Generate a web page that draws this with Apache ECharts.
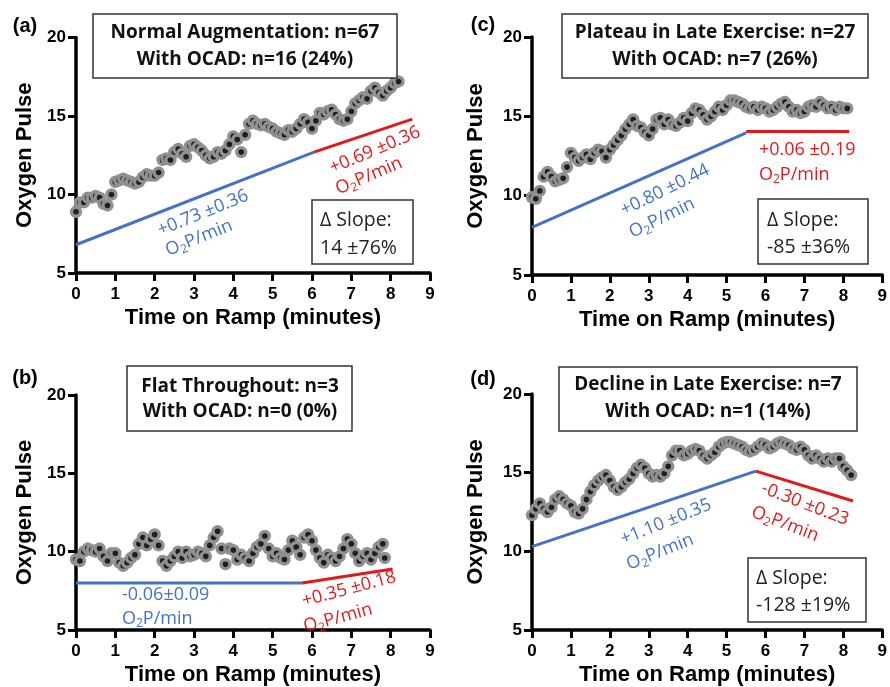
<!DOCTYPE html>
<html><head><meta charset="utf-8">
<script src="https://cdn.jsdelivr.net/npm/echarts@6/dist/echarts.min.js"></script>
<style>html,body{margin:0;padding:0;background:#fff}#c{width:890px;height:687px}</style>
</head><body><div id="c"></div><script>
// ---------------- DATA ----------------
const xTicks = [0,1,2,3,4,5,6,7,8,9];
const yTicks = [5,10,15,20];

// (a) Normal Augmentation
const timeA = [0,0.1,0.2,0.3,0.4,0.5,0.6,0.7,0.8,0.9,1.0,1.1,1.2,1.3,1.4,1.5,1.6,1.7,1.8,1.9,2.0,2.1,2.2,2.3,2.4,2.5,2.6,2.7,2.8,2.9,3.0,3.1,3.2,3.3,3.4,3.5,3.6,3.7,3.8,3.9,4.0,4.1,4.2,4.3,4.4,4.5,4.6,4.7,4.8,4.9,5.0,5.1,5.2,5.3,5.4,5.5,5.6,5.7,5.8,5.9,6.0,6.1,6.2,6.3,6.4,6.5,6.6,6.7,6.8,6.9,7.0,7.1,7.2,7.3,7.4,7.5,7.6,7.7,7.8,7.9,8.0,8.1,8.2];
const pulseA = [8.9,9.5,9.5,9.8,9.8,9.9,9.8,9.4,9.3,10.0,10.8,10.9,11.0,10.9,10.8,10.7,10.8,11.1,11.3,11.2,11.2,11.4,12.2,12.3,12.2,12.7,12.9,12.6,12.4,13.1,13.2,13.0,12.8,12.5,12.3,12.4,12.7,12.6,12.8,13.2,13.7,13.5,12.7,13.8,14.5,14.7,14.5,14.4,14.5,14.3,14.2,14.0,13.9,13.8,14.1,14.0,14.2,14.5,14.8,14.6,14.2,14.7,15.2,15.1,15.3,15.4,15.1,14.8,14.7,14.8,15.3,15.8,16.0,16.2,16.1,16.6,16.8,16.5,16.3,16.6,16.8,17.1,17.2];
const fitEarlyA = [[0,6.8],[6.05,12.7]];
const fitLateA  = [[6.05,12.7],[8.55,14.8]];

// (c) Plateau in Late Exercise
const timeC = [0,0.1,0.2,0.3,0.4,0.5,0.6,0.7,0.8,0.9,1.0,1.1,1.2,1.3,1.4,1.5,1.6,1.7,1.8,1.9,2.0,2.1,2.2,2.3,2.4,2.5,2.6,2.7,2.8,2.9,3.0,3.1,3.2,3.3,3.4,3.5,3.6,3.7,3.8,3.9,4.0,4.1,4.2,4.3,4.4,4.5,4.6,4.7,4.8,4.9,5.0,5.1,5.2,5.3,5.4,5.5,5.6,5.7,5.8,5.9,6.0,6.1,6.2,6.3,6.4,6.5,6.6,6.7,6.8,6.9,7.0,7.1,7.2,7.3,7.4,7.5,7.6,7.7,7.8,7.9,8.0,8.1];
const pulseC = [9.9,9.8,10.3,11.2,11.5,11.2,10.9,11.0,11.1,11.8,12.7,12.4,12.2,12.4,12.6,12.3,12.7,12.9,12.8,12.4,12.9,13.2,13.5,13.8,14.2,14.5,14.8,14.4,14.3,14.0,13.8,14.2,14.8,14.9,14.5,14.8,14.5,14.4,14.6,14.9,14.7,15.2,15.5,15.4,15.1,14.8,15.0,15.3,15.6,15.4,15.7,16.0,16.0,15.9,15.8,15.6,15.5,15.6,15.4,15.6,15.5,15.3,15.4,15.6,15.8,15.9,15.6,15.3,15.4,15.2,15.3,15.6,15.7,15.6,15.9,15.7,15.5,15.6,15.4,15.6,15.5,15.5];
const fitEarlyC = [[0,8.0],[5.5,13.95]];
const fitLateC  = [[5.5,14.05],[8.15,14.05]];

// (b) Flat Throughout
const timeB = [0,0.1,0.2,0.3,0.4,0.5,0.6,0.7,0.8,0.9,1.0,1.1,1.2,1.3,1.4,1.5,1.6,1.7,1.8,1.9,2.0,2.1,2.2,2.3,2.4,2.5,2.6,2.7,2.8,2.9,3.0,3.1,3.2,3.3,3.4,3.5,3.6,3.7,3.8,3.9,4.0,4.1,4.2,4.3,4.4,4.5,4.6,4.7,4.8,4.9,5.0,5.1,5.2,5.3,5.4,5.5,5.6,5.7,5.8,5.9,6.0,6.1,6.2,6.3,6.4,6.5,6.6,6.7,6.8,6.9,7.0,7.1,7.2,7.3,7.4,7.5,7.6,7.7,7.8,7.85];
const pulseB = [9.5,9.4,10.0,10.2,10.1,10.0,10.2,9.7,9.4,9.9,9.9,9.3,9.1,9.3,9.6,9.8,10.5,10.9,10.4,10.8,11.1,10.4,9.4,9.1,9.4,9.7,10.0,9.6,10.0,9.7,9.8,10.0,9.9,9.7,10.4,10.9,11.3,10.2,9.2,10.2,10.1,9.5,9.8,9.6,9.4,9.9,10.3,10.5,11.0,10.2,9.7,9.9,9.6,9.5,10.1,10.7,10.3,9.8,10.9,11.1,10.7,10.1,9.6,9.3,9.8,9.6,9.4,9.7,10.2,10.8,10.5,9.9,9.4,9.7,9.9,9.5,9.9,10.3,10.5,9.6];
const fitEarlyB = [[0,8.0],[5.75,8.0]];
const fitLateB  = [[5.75,8.0],[8.05,8.9]];

// (d) Decline in Late Exercise
const timeD = [0,0.1,0.2,0.3,0.4,0.5,0.6,0.7,0.8,0.9,1.0,1.1,1.2,1.3,1.4,1.5,1.6,1.7,1.8,1.9,2.0,2.1,2.2,2.3,2.4,2.5,2.6,2.7,2.8,2.9,3.0,3.1,3.2,3.3,3.4,3.5,3.6,3.7,3.8,3.9,4.0,4.1,4.2,4.3,4.4,4.5,4.6,4.7,4.8,4.9,5.0,5.1,5.2,5.3,5.4,5.5,5.6,5.7,5.8,5.9,6.0,6.1,6.2,6.3,6.4,6.5,6.6,6.7,6.8,6.9,7.0,7.1,7.2,7.3,7.4,7.5,7.6,7.7,7.8,7.9,8.0,8.1,8.2];
const pulseD = [12.3,12.7,13.05,12.7,12.5,12.8,13.3,13.5,13.3,13.05,12.9,12.5,12.4,12.7,13.3,13.8,14.2,14.5,14.7,14.85,14.5,14.1,13.9,14.1,14.4,14.6,14.95,15.3,15.5,15.3,14.95,14.75,14.85,14.75,14.95,15.4,16.1,16.4,16.4,16.1,16.2,16.4,16.5,16.4,16.1,15.9,16.1,16.3,16.65,16.85,16.95,16.95,16.85,16.75,16.65,16.45,16.35,16.45,16.65,16.85,16.75,16.55,16.65,16.85,16.95,16.85,16.75,16.55,16.45,16.65,16.45,16.1,15.9,16.1,15.9,15.7,15.9,15.7,15.9,15.9,15.4,15.15,14.85];
const fitEarlyD = [[0,10.3],[5.75,15.1]];
const fitLateD  = [[5.75,15.1],[8.25,13.2]];

// ---------------- STYLE / LAYOUT ----------------
const FONT_AX = '"Liberation Sans", Arial, sans-serif';
const FONT_TX = '"Open Sans", "Noto Sans", sans-serif';
const BLUE = '#4472c4', RED = '#e0191c';

const panels = [
  {t: timeA, v: pulseA, early: fitEarlyA, late: fitLateA, grid: {left: 76, top: 37.5, width: 354, height: 235.5}, nameGap: 40},
  {t: timeC, v: pulseC, early: fitEarlyC, late: fitLateC, grid: {left: 532, top: 37, width: 356, height: 238}, nameGap: 45},
  {t: timeB, v: pulseB, early: fitEarlyB, late: fitLateB, grid: {left: 76, top: 395, width: 354, height: 235.5}, nameGap: 40},
  {t: timeD, v: pulseD, early: fitEarlyD, late: fitLateD, grid: {left: 532, top: 394, width: 356, height: 236}, nameGap: 45}
];

const grids = [], xAxes = [], yAxes = [], series = [];
panels.forEach((p, i) => {
  grids.push(Object.assign({containLabel: false}, p.grid));
  const axisCommon = {
    axisLine: {show: true, onZero: false, lineStyle: {color: '#000', width: 3.5}},
    axisTick: {show: true, length: 8, lineStyle: {color: '#000', width: 3}},
    splitLine: {show: false},
    nameTextStyle: {fontFamily: FONT_AX, fontWeight: 'bold', fontSize: 22, color: '#000'}
  };
  xAxes.push(Object.assign({}, axisCommon, {
    gridIndex: i, type: 'value', min: xTicks[0], max: xTicks[xTicks.length - 1], interval: 1,
    name: 'Time on Ramp (minutes)', nameLocation: 'middle', nameGap: 34,
    axisLabel: {fontFamily: FONT_AX, fontWeight: 'bold', fontSize: 17, color: '#000', margin: 13, showMaxLabel: true}
  }));
  yAxes.push(Object.assign({}, axisCommon, {
    gridIndex: i, type: 'value', min: yTicks[0], max: yTicks[yTicks.length - 1], interval: 5,
    name: 'Oxygen Pulse', nameLocation: 'middle', nameGap: p.nameGap,
    axisLabel: {fontFamily: FONT_AX, fontWeight: 'bold', fontSize: 17, color: '#000', margin: 10}
  }));
  series.push({
    type: 'line', xAxisIndex: i, yAxisIndex: i, data: p.early, symbol: 'none',
    lineStyle: {color: BLUE, width: 3}, silent: true, z: 2
  });
  series.push({
    type: 'line', xAxisIndex: i, yAxisIndex: i, data: p.late, symbol: 'none',
    lineStyle: {color: RED, width: 3}, silent: true, z: 2
  });
  series.push({
    type: 'scatter', xAxisIndex: i, yAxisIndex: i,
    data: p.t.map((t, k) => [t, p.v[k]]),
    symbol: 'circle', symbolSize: 9,
    itemStyle: {color: '#1e1e1e', borderColor: '#909090', borderWidth: 3.4, opacity: 1},
    silent: true, z: 3
  });
});

// ---------------- ANNOTATIONS ----------------
const G = [];
function rad(d) { return d * Math.PI / 180; }
function box(x, y, w, h) {
  G.push({type: 'rect', shape: {x, y, width: w, height: h}, style: {fill: '#fff', stroke: '#333', lineWidth: 1.5}, z: 10});
}
function text(x, y, s, o) {
  o = o || {};
  G.push({type: 'text', x, y, rotation: rad(o.rot || 0), z: 11, style: {
    text: s, fill: o.color || '#111', fontFamily: o.font || FONT_TX, fontWeight: o.weight || 'normal',
    fontSize: o.size || 18, align: o.align || 'center', verticalAlign: 'middle'}});
}
function o2p(x, y, color, rot, align) {
  G.push({type: 'text', x, y, rotation: rad(rot || 0), z: 11, style: {
    text: '{n|O}{s|2}{n|P/min}', align: align || 'center', verticalAlign: 'middle',
    rich: {
      n: {fill: color, fontFamily: FONT_TX, fontSize: 18, lineHeight: 22},
      s: {fill: color, fontFamily: FONT_TX, fontSize: 12, lineHeight: 12, verticalAlign: 'bottom'}
    }}});
}
function titleBox(x, y, w, h, l1, l2, cx, y1, y2) {
  box(x, y, w, h);
  text(cx, y1, l1, {weight: 'bold', size: 19, color: '#111'});
  text(cx, y2, l2, {weight: 'bold', size: 19, color: '#111'});
}
function slopeBox(x, y, w, h, tx, y1, y2, val) {
  box(x, y, w, h);
  text(tx, y1, 'Δ Slope:', {align: 'left', size: 19.5, color: '#222'});
  text(tx, y2, val, {align: 'left', size: 19.5, color: '#222'});
}
function panelLabel(x, y, s) { text(x, y, s, {font: FONT_AX, weight: 'bold', size: 20, color: '#000'}); }

// (a)
panelLabel(25, 26, '(a)');
titleBox(93, 14, 304, 64, 'Normal Augmentation: n=67', 'With OCAD: n=16 (24%)', 245, 33, 60);
text(203, 213, '+0.73 ±0.36', {color: BLUE, rot: 22});
o2p(199, 238, BLUE, 22);
text(375, 150, '+0.69 ±0.36', {color: RED, rot: 23});
o2p(369, 176, RED, 23);
slopeBox(312, 200, 101, 64, 320, 220, 248, '14 ±76%');

// (c)
panelLabel(483, 25, '(c)');
titleBox(562, 14, 306, 64, 'Plateau in Late Exercise: n=27', 'With OCAD: n=7 (26%)', 715, 33, 60);
text(665, 190, '+0.80 ±0.44', {color: BLUE, rot: 26});
o2p(662, 218, BLUE, 26);
text(759, 150, '+0.06 ±0.19', {color: RED, align: 'left'});
o2p(759, 175, RED, 0, 'left');
slopeBox(758, 199, 110, 65, 767, 220, 247, '-85 ±36%');

// (b)
panelLabel(25, 378, '(b)');
titleBox(127, 366, 225, 65, 'Flat Throughout: n=3', 'With OCAD: n=0 (0%)', 240, 387, 412);
text(122, 595, '-0.06±0.09', {color: BLUE, align: 'left'});
o2p(122, 619, BLUE, 0, 'left');
text(349, 589, '+0.35 ±0.18', {color: RED, rot: 15});
o2p(338, 618, RED, 15);

// (d)
panelLabel(483, 379, '(d)');
titleBox(559, 367, 298, 64, 'Decline in Late Exercise: n=7', 'With OCAD: n=1 (14%)', 708, 385, 412);
text(666, 522, '+1.10 ±0.35', {color: BLUE, rot: 22});
o2p(660, 552, BLUE, 22);
text(805, 504, '-0.30 ±0.23', {color: RED, rot: -21});
o2p(785, 524, RED, -21);
slopeBox(748, 558, 118, 64, 756, 578, 605, '-128 ±19%');

const chart = echarts.init(document.getElementById('c'), null, {renderer: 'canvas'});
chart.setOption({
  animation: false,
  backgroundColor: '#fff',
  grid: grids, xAxis: xAxes, yAxis: yAxes, series: series,
  graphic: {elements: G}
});
</script></body></html>
